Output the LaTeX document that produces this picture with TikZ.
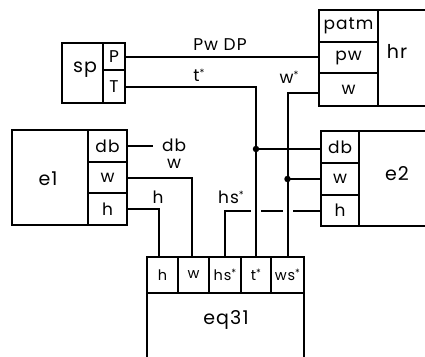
\documentclass[tikz,border=0pt]{standalone}
\usepackage{fontspec}
\setmainfont[LetterSpace=6]{Poppins}
\usetikzlibrary{backgrounds}
\newcommand\starmark{\raisebox{0.3em}{\fontsize{10}{10}\selectfont *}}
\begin{document}
\begin{tikzpicture}[x=1pt,y=-1pt,
  font=\fontsize{17}{19}\selectfont,
  cell/.style={draw, fill=white, line width=2pt, anchor=north west, inner sep=0pt, outer sep=0pt},
  small/.style={font=\fontsize{14.5}{16}\selectfont},
  title/.style={font=\fontsize{19}{21}\selectfont},
  wire/.style={line width=2pt},
  hop/.style={wire, preaction={draw=white, line width=10pt}},
  junc/.style={circle, fill=black, inner sep=0pt, minimum size=6.5pt}]
\clip (0,0) rectangle (425,356);
% ---- boxes ----
\node[cell, minimum width=41pt, minimum height=60pt] (sp) at (62,43) {};
\node[cell, minimum width=22pt, minimum height=27pt] (spP) at (103,43) {P};
\node[cell, minimum width=22pt, minimum height=33pt] (spT) at (103,70) {T};
\node[cell, minimum width=59pt, minimum height=32pt] (hrpatm) at (319,10) {patm};
\node[cell, minimum width=59pt, minimum height=31pt] (hrpw) at (319,42) {pw};
\node[cell, minimum width=59pt, minimum height=33pt] (hrw) at (319,73) {w};
\node[cell, minimum width=70pt, minimum height=96pt] (hr) at (378,10) {};
\node[cell, minimum width=76pt, minimum height=95pt] (e1) at (12,130) {};
\node[cell, minimum width=39pt, minimum height=32pt] (e1db) at (88,130) {db};
\node[cell, minimum width=39pt, minimum height=31pt] (e1w) at (88,162) {w};
\node[cell, minimum width=39pt, minimum height=32pt] (e1h) at (88,193) {h};
\node[cell, minimum width=38pt, minimum height=32pt] (e2db) at (321,131) {db};
\node[cell, minimum width=38pt, minimum height=32pt] (e2w) at (321,163) {w};
\node[cell, minimum width=38pt, minimum height=31pt] (e2h) at (321,195) {h};
\node[cell, minimum width=90pt, minimum height=95pt] (e2) at (359,131) {};
\node[cell, small, minimum width=31pt, minimum height=36pt] (eqh) at (147,257) {h};
\node[cell, small, minimum width=31pt, minimum height=36pt] (eqw) at (178,257) {w};
\node[cell, small, minimum width=32pt, minimum height=36pt] (eqhs) at (209,257) {hs\starmark};
\node[cell, small, minimum width=30pt, minimum height=36pt] (eqt) at (241,257) {t\starmark};
\node[cell, small, minimum width=33pt, minimum height=36pt] (eqws) at (271,257) {ws\starmark};
\node[cell, minimum width=157pt, minimum height=90pt] (eq) at (147,293) {};
% ---- box titles ----
\node[title] (tsp) at (85,70) {sp};
\node[title] (thr) at (397,51) {hr};
\node[title] (te1) at (48,179) {e1};
\node[title] (te2) at (397,174) {e2};
\node[title] (teq) at (226,320) {eq31};
% ---- wire labels ----
\node (lPw) at (220,45) {Pw DP};
\node (lt) at (199,75) {t\starmark};
\node (lw) at (289,77) {w\starmark};
\node (ldb) at (174,145) {db};
\node (lw1) at (174,164) {w};
\node (lh1) at (158,197) {h};
\node (lhs) at (231,197) {hs\starmark};
\coordinate (dbend) at (153,146);
% ---- connectors (under the boxes) ----
\begin{scope}[on background layer]
\fill[white] (0,0) rectangle (425,356);
\draw[wire] (e2h.west) -| (eqhs.north);
\draw[hop] (spT.east) -| (eqt.north);
\draw[hop] ([yshift=-3pt]hrw.west) -| (eqws.north);
\draw[wire] (spP.east) -- (spP.east -| hrpw.west);
\draw[wire] (e1db.east) -- (dbend);
\draw[wire] (e1w.east) -| ([xshift=-2pt]eqw.north);
\draw[wire] (e1h.east) -| ([xshift=-4pt]eqh.north);
\draw[wire] ([yshift=-2pt]e2db.west) -- ([yshift=-2pt]e2db.west -| eqt.north) node[junc] (j1) {};
\draw[wire] (e2w.west) -- (e2w.west -| eqws.north) node[junc] (j2) {};
\end{scope}
\end{tikzpicture}
\end{document}
